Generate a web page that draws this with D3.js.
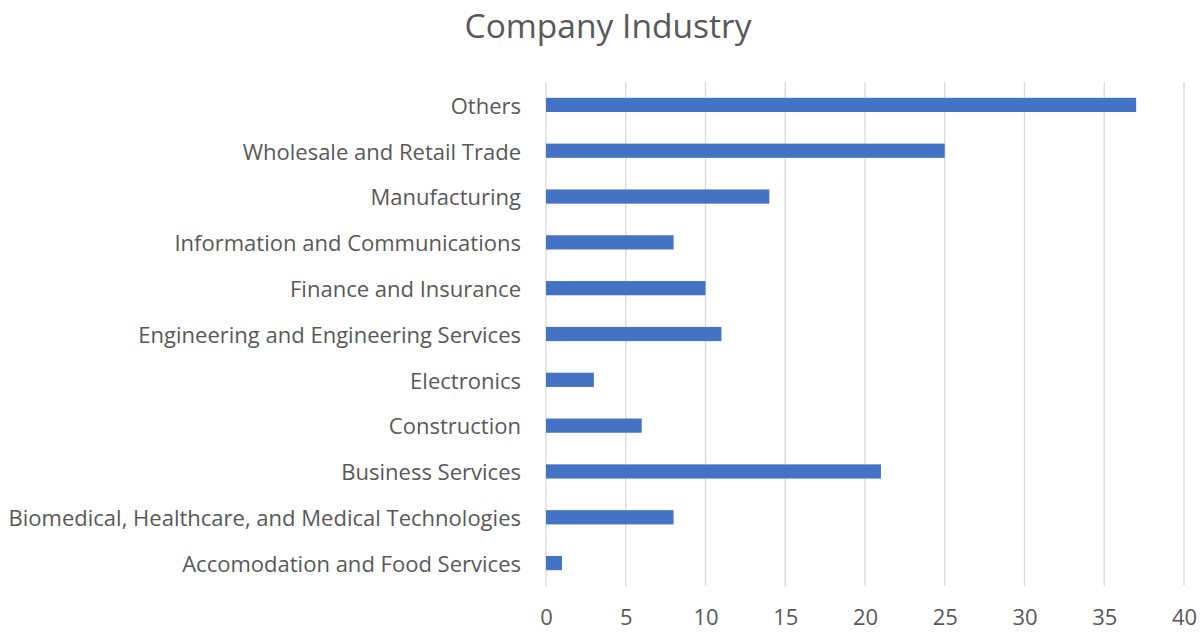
<!DOCTYPE html>
<html>
<head>
<meta charset="utf-8">
<script src="https://cdn.jsdelivr.net/npm/d3@7"></script>
<style>
  html, body { margin: 0; padding: 0; background: #fff; }
  svg { display: block; font-family: "Open Sans", "Liberation Sans", sans-serif; }
</style>
</head>
<body>
<svg id="chart" width="1204" height="633"></svg>
<script>
// Industry categories, top to bottom as drawn
const categories = [
  "Others",
  "Wholesale and Retail Trade",
  "Manufacturing",
  "Information and Communications",
  "Finance and Insurance",
  "Engineering and Engineering Services",
  "Electronics",
  "Construction",
  "Business Services",
  "Biomedical, Healthcare, and Medical Technologies",
  "Accomodation and Food Services"
];
const counts = [37, 25, 14, 8, 10, 11, 3, 6, 21, 8, 1];
const xTicks = [0, 5, 10, 15, 20, 25, 30, 35, 40];
const chartTitle = "Company Industry";

const svg = d3.select("#chart");
const margin = { top: 82, right: 20, bottom: 48, left: 546 };
const plotW = 1184 - margin.left;
const plotH = 586 - margin.top;

const textColor = "#595959";

const x = d3.scaleLinear().domain([0, 40]).range([0, plotW]);
const y = d3.scaleBand().domain(categories).range([0, plotH]).paddingInner(0.69).paddingOuter(0.345);

const g = svg.append("g").attr("transform", `translate(${margin.left},${margin.top})`);

// vertical gridlines
g.append("g")
  .selectAll("line")
  .data(xTicks)
  .join("line")
  .attr("x1", d => x(d)).attr("x2", d => x(d))
  .attr("y1", 0).attr("y2", plotH)
  .attr("stroke", "#d9d9d9")
  .attr("stroke-width", 1.3);

// bars
g.append("g")
  .selectAll("rect")
  .data(categories)
  .join("rect")
  .attr("x", x(0))
  .attr("y", d => y(d))
  .attr("width", (d, i) => x(counts[i]) - x(0))
  .attr("height", y.bandwidth())
  .attr("fill", "#4472c4");

// category axis (labels only)
const yAxis = g.append("g")
  .call(d3.axisLeft(y).tickSize(0).tickPadding(25));
yAxis.select(".domain").remove();
yAxis.selectAll("text")
  .attr("fill", textColor)
  .attr("font-size", 20)
  .attr("dy", "0.4em")
  .attr("font-family", "'Open Sans', 'Liberation Sans', sans-serif");

// fit label size so the longest label spans the label column
let longest = 0;
yAxis.selectAll("text").each(function () { longest = Math.max(longest, this.getComputedTextLength()); });
const labelSize = 20 * 513 / longest;
yAxis.selectAll("text").attr("font-size", labelSize);

// value axis
const xAxis = g.append("g")
  .attr("transform", `translate(0,${plotH})`)
  .call(d3.axisBottom(x).tickValues(xTicks).tickSize(0).tickPadding(23));
xAxis.select(".domain").remove();
xAxis.selectAll("text")
  .attr("fill", textColor)
  .attr("font-size", labelSize)
  .attr("font-family", "'Open Sans', 'Liberation Sans', sans-serif");

// title
const title = svg.append("text")
  .attr("x", 608)
  .attr("y", 38)
  .attr("text-anchor", "middle")
  .attr("fill", textColor)
  .attr("font-size", 32)
  .text(chartTitle);
const tw = title.node().getComputedTextLength();
title.attr("font-size", 32 * 287 / tw);
</script>
</body>
</html>
